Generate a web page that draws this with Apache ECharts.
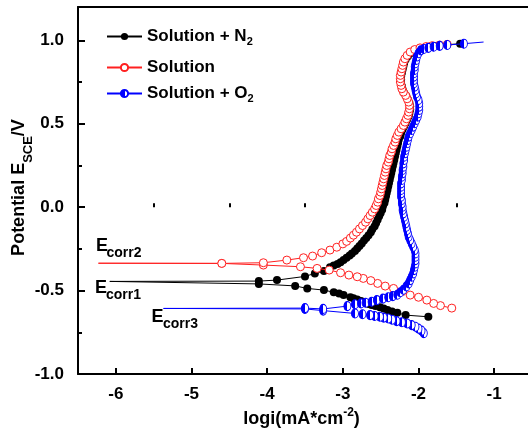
<!DOCTYPE html>
<html>
<head>
<meta charset="utf-8">
<script src="https://cdn.jsdelivr.net/npm/echarts@6/dist/echarts.min.js"></script>
<style>
html,body{margin:0;padding:0;background:#fff;overflow:hidden;}
#chart{width:528px;height:441px;}
</style>
</head>
<body>
<div id="chart"></div>
<script>
// ---------- data (logi, E) ----------
// Solution + N2 (black)
const n2Cathodic = [[-1.87,-0.657],[-2.17,-0.647],[-2.28,-0.633],[-2.35,-0.625],[-2.41,-0.617],[-2.46,-0.608],[-2.51,-0.600],[-2.57,-0.593],[-2.62,-0.587],[-2.66,-0.580],[-2.70,-0.573],[-2.76,-0.563],[-2.81,-0.553],[-2.86,-0.546],[-2.90,-0.540],[-2.99,-0.527],[-3.05,-0.517],[-3.12,-0.510],[-3.25,-0.497],[-3.47,-0.487],[-3.63,-0.472],[-4.11,-0.460]];
const n2Ecorr = [-6.08,-0.445];
const n2Anodic = [[-4.11,-0.443],[-3.87,-0.437],[-3.50,-0.415],[-3.37,-0.397],[-3.25,-0.383],[-3.17,-0.360],[-3.12,-0.350],[-3.07,-0.340],[-3.03,-0.330],[-2.99,-0.317],[-2.95,-0.303],[-2.91,-0.290],[-2.88,-0.277],[-2.84,-0.262],[-2.81,-0.247],[-2.78,-0.232],[-2.75,-0.217],[-2.72,-0.200],[-2.69,-0.185],[-2.66,-0.168],[-2.63,-0.150],[-2.61,-0.133],[-2.58,-0.115],[-2.56,-0.095],[-2.54,-0.075],[-2.52,-0.055],[-2.50,-0.035],[-2.48,-0.015],[-2.47,0.005],[-2.45,0.025],[-2.44,0.045],[-2.43,0.065],[-2.42,0.085],[-2.41,0.105],[-2.40,0.125],[-2.39,0.145],[-2.38,0.165],[-2.37,0.185],[-2.36,0.205],[-2.35,0.225],[-2.34,0.245],[-2.33,0.265],[-2.32,0.285],[-2.31,0.305],[-2.30,0.325],[-2.29,0.345],[-2.28,0.365],[-2.27,0.385],[-2.26,0.405],[-2.24,0.425],[-2.23,0.445],[-2.21,0.465],[-2.19,0.485],[-2.17,0.505],[-2.15,0.525],[-2.13,0.545],[-2.12,0.565],[-2.11,0.585],[-2.11,0.605],[-2.12,0.625],[-2.14,0.645],[-2.16,0.665],[-2.19,0.685],[-2.21,0.705],[-2.22,0.725],[-2.23,0.745],[-2.23,0.765],[-2.23,0.785],[-2.22,0.805],[-2.21,0.825],[-2.20,0.845],[-2.19,0.865],[-2.17,0.885],[-2.14,0.905],[-2.10,0.925],[-2.04,0.940],[-1.96,0.952],[-1.86,0.962],[-1.75,0.968],[-1.62,0.974],[-1.45,0.980]];

// Solution (red)
const solCathodic = [[-1.56,-0.605],[-1.71,-0.590],[-1.80,-0.577],[-1.89,-0.557],[-2.00,-0.540],[-2.11,-0.527],[-2.22,-0.507],[-2.33,-0.487],[-2.44,-0.473],[-2.54,-0.457],[-2.63,-0.440],[-2.73,-0.427],[-2.81,-0.417],[-2.92,-0.407],[-3.03,-0.393],[-3.18,-0.377],[-3.34,-0.367],[-3.56,-0.357],[-4.05,-0.347],[-4.60,-0.337]];
const solEcorr = [-6.23,-0.336];
const solAnodic = [[-4.60,-0.337],[-4.05,-0.333],[-3.74,-0.317],[-3.52,-0.303],[-3.40,-0.293],[-3.28,-0.273],[-3.17,-0.257],[-3.08,-0.240],[-3.00,-0.220],[-2.95,-0.205],[-2.90,-0.185],[-2.86,-0.168],[-2.82,-0.150],[-2.78,-0.130],[-2.74,-0.110],[-2.70,-0.090],[-2.67,-0.070],[-2.64,-0.050],[-2.61,-0.030],[-2.58,-0.010],[-2.56,0.010],[-2.54,0.030],[-2.53,0.050],[-2.51,0.070],[-2.50,0.090],[-2.49,0.110],[-2.48,0.130],[-2.47,0.150],[-2.46,0.170],[-2.45,0.190],[-2.44,0.210],[-2.43,0.230],[-2.42,0.250],[-2.40,0.270],[-2.39,0.290],[-2.38,0.310],[-2.36,0.330],[-2.35,0.350],[-2.33,0.370],[-2.31,0.390],[-2.30,0.410],[-2.28,0.430],[-2.26,0.450],[-2.23,0.470],[-2.20,0.490],[-2.18,0.510],[-2.16,0.530],[-2.14,0.550],[-2.13,0.570],[-2.12,0.590],[-2.12,0.610],[-2.13,0.630],[-2.15,0.650],[-2.17,0.670],[-2.20,0.690],[-2.22,0.710],[-2.23,0.730],[-2.24,0.750],[-2.24,0.770],[-2.24,0.790],[-2.23,0.810],[-2.22,0.830],[-2.21,0.850],[-2.20,0.870],[-2.18,0.890],[-2.15,0.910],[-2.11,0.930],[-2.05,0.945],[-1.98,0.955],[-1.90,0.963],[-1.82,0.968],[-1.72,0.972],[-1.62,0.976]];

// Solution + O2 (blue)
const o2Cathodic = [[-1.93,-0.755],[-1.96,-0.740],[-2.00,-0.728],[-2.04,-0.717],[-2.09,-0.707],[-2.15,-0.697],[-2.22,-0.690],[-2.29,-0.683],[-2.35,-0.675],[-2.40,-0.667],[-2.46,-0.662],[-2.51,-0.657],[-2.58,-0.652],[-2.64,-0.647],[-2.74,-0.642],[-2.84,-0.637],[-3.26,-0.620],[-3.50,-0.610]];
const o2Ecorr = [-5.37,-0.607];
const o2Anodic = [[-3.50,-0.605],[-3.26,-0.610],[-2.94,-0.593],[-2.84,-0.582],[-2.76,-0.577],[-2.70,-0.573],[-2.62,-0.567],[-2.55,-0.557],[-2.47,-0.548],[-2.40,-0.540],[-2.34,-0.533],[-2.28,-0.525],[-2.24,-0.510],[-2.20,-0.495],[-2.16,-0.475],[-2.13,-0.457],[-2.11,-0.437],[-2.09,-0.417],[-2.07,-0.397],[-2.06,-0.377],[-2.05,-0.357],[-2.04,-0.337],[-2.04,-0.317],[-2.04,-0.297],[-2.04,-0.277],[-2.05,-0.257],[-2.07,-0.237],[-2.09,-0.217],[-2.11,-0.197],[-2.13,-0.177],[-2.14,-0.157],[-2.15,-0.137],[-2.16,-0.117],[-2.17,-0.097],[-2.18,-0.077],[-2.19,-0.057],[-2.20,-0.037],[-2.21,-0.017],[-2.21,0.003],[-2.22,0.023],[-2.22,0.043],[-2.23,0.063],[-2.23,0.083],[-2.23,0.103],[-2.23,0.123],[-2.23,0.143],[-2.22,0.163],[-2.22,0.183],[-2.21,0.203],[-2.21,0.223],[-2.20,0.243],[-2.20,0.263],[-2.19,0.283],[-2.19,0.303],[-2.18,0.323],[-2.17,0.343],[-2.16,0.363],[-2.15,0.383],[-2.14,0.403],[-2.13,0.423],[-2.11,0.443],[-2.09,0.463],[-2.07,0.483],[-2.05,0.503],[-2.03,0.523],[-2.01,0.543],[-2.00,0.563],[-1.99,0.583],[-1.99,0.603],[-1.99,0.623],[-2.00,0.643],[-2.02,0.663],[-2.03,0.683],[-2.04,0.703],[-2.05,0.723],[-2.06,0.743],[-2.06,0.763],[-2.06,0.783],[-2.06,0.803],[-2.05,0.823],[-2.05,0.843],[-2.04,0.863],[-2.03,0.883],[-2.02,0.903],[-2.00,0.923],[-1.97,0.940],[-1.93,0.948],[-1.87,0.955],[-1.80,0.962],[-1.72,0.967],[-1.62,0.972],[-1.40,0.980]];
const o2Tail = [-1.14,0.990];

const seriesNames = ['Solution + N2','Solution','Solution + O2'];
const xTicks = [-6,-5,-4,-3,-2,-1];
const xMinorTicks = [-5.5,-4.5,-3.5,-2.5,-1.5];
const yTicks = [-1.0,-0.5,0.0,0.5,1.0];
const yMinorTicks = [-0.75,-0.25,0.25,0.75];

// ---------- chart ----------
const FONT = '"Liberation Sans", Arial, Helvetica, sans-serif';
function build(cath, ecorr, anod, tail){
  const d = cath.map(p => p.slice());
  d.push({value: ecorr.slice(), symbol: 'none'});
  anod.forEach(p => d.push(p.slice()));
  if (tail) d.push({value: tail.slice(), symbol: 'none'});
  return d;
}
const halfBlue = new echarts.graphic.LinearGradient(0,0,1,0,[
  {offset:0,color:'#0000ff'},{offset:0.5,color:'#0000ff'},
  {offset:0.5,color:'#ffffff'},{offset:1,color:'#ffffff'}]);

const chart = echarts.init(document.getElementById('chart'), null, {renderer:'canvas'});
const legendBase = (name, top) => ({
  data:[name], left:106, top:top, padding:0, orient:'vertical',
  itemWidth:35, itemHeight:9, selectedMode:false,
  formatter: n => {
    if (n === 'Solution + N2') return '{a|Solution + N}{s|2}';
    if (n === 'Solution + O2') return '{a|Solution + O}{s|2}';
    return '{a|' + n + '}';
  },
  textStyle:{color:'#000', fontFamily:FONT, fontWeight:'bold', fontSize:17,
    rich:{a:{fontFamily:FONT,fontWeight:'bold',fontSize:17,color:'#000',lineHeight:22},
          s:{fontFamily:FONT,fontWeight:'bold',fontSize:11,color:'#000',lineHeight:11,verticalAlign:'bottom'}}}
});

const option = {
  animation:false,
  backgroundColor:'#fff',
  grid:{left:78, top:7, right:-4, bottom:67, outerBoundsMode:'none', containLabel:false, show:false},
  legend:[legendBase(seriesNames[0],28), legendBase(seriesNames[1],59), legendBase(seriesNames[2],85)],
  xAxis:[{
    type:'value', min:-6.5, max:-0.5, position:'bottom',
    axisLine:{onZero:false, lineStyle:{color:'#000', width:2}},
    axisTick:{inside:true, length:6, lineStyle:{color:'#000', width:2}, customValues:xTicks},
    axisLabel:{customValues:xTicks, margin:12, color:'#000', fontFamily:FONT, fontWeight:'bold', fontSize:17},
    splitLine:{show:false}
  },{
    type:'value', min:-6.5, max:-0.5, position:'top',
    axisLine:{onZero:false, lineStyle:{color:'#000', width:2}},
    axisTick:{show:false}, axisLabel:{show:false}, splitLine:{show:false}
  },{
    type:'value', min:-6.5, max:-0.5, position:'bottom',
    axisLine:{show:false},
    axisTick:{inside:true, length:4, lineStyle:{color:'#000', width:2}, customValues:xMinorTicks},
    axisLabel:{show:false}, splitLine:{show:false}
  }],
  yAxis:[{
    type:'value', min:-1, max:1.2, position:'left',
    axisLine:{onZero:false, lineStyle:{color:'#000', width:2}},
    axisTick:{inside:true, length:7, lineStyle:{color:'#000', width:2}, customValues:yTicks},
    axisLabel:{customValues:yTicks, margin:14, color:'#000', fontFamily:FONT, fontWeight:'bold', fontSize:17,
      formatter: v => v.toFixed(1)},
    splitLine:{show:false}
  },{
    type:'value', min:-1, max:1.2, position:'left',
    axisLine:{show:false},
    axisTick:{inside:true, length:4, lineStyle:{color:'#000', width:2}, customValues:yMinorTicks},
    axisLabel:{show:false}, splitLine:{show:false}
  }],
  series:[{
    name:seriesNames[0], type:'line', xAxisIndex:0, yAxisIndex:0,
    data:build(n2Cathodic, n2Ecorr, n2Anodic),
    symbol:'circle', symbolSize:8,
    lineStyle:{color:'#000', width:1},
    itemStyle:{color:'#000', borderColor:'#000', borderWidth:0},
    z:2
  },{
    name:seriesNames[1], type:'line', xAxisIndex:0, yAxisIndex:0,
    data:build(solCathodic, solEcorr, solAnodic),
    symbol:'circle', symbolSize:8,
    lineStyle:{color:'#ff2020', width:1},
    itemStyle:{color:'#ffffff', borderColor:'#ff2020', borderWidth:1},
    z:3
  },{
    name:seriesNames[2], type:'line', xAxisIndex:0, yAxisIndex:0,
    data:build(o2Cathodic, o2Ecorr, o2Anodic, o2Tail),
    symbol:'circle', symbolSize:[7,9],
    lineStyle:{color:'#0000ff', width:1},
    itemStyle:{color:halfBlue, borderColor:'#0000ff', borderWidth:1},
    z:4
  }],
  graphic:[
    {type:'text', x:19.5, y:187.5, rotation:Math.PI/2, z:10,
      style:{text:'{a|Potential E}{b|SCE}{a|/V}', align:'center', verticalAlign:'middle',
        rich:{a:{fontFamily:FONT,fontWeight:'bold',fontSize:18,fill:'#000',lineHeight:30},
              b:{fontFamily:FONT,fontWeight:'bold',fontSize:13,fill:'#000',lineHeight:14,verticalAlign:'bottom'}}}},
    {type:'text', x:301.5, y:419, z:10,
      style:{text:'{a|logi(mA*cm}{b|-2}{a|)}', align:'center', verticalAlign:'middle',
        rich:{a:{fontFamily:FONT,fontWeight:'bold',fontSize:18,fill:'#000',lineHeight:24},
              b:{fontFamily:FONT,fontWeight:'bold',fontSize:12,fill:'#000',lineHeight:12,verticalAlign:'top'}}}},
    // Ecorr annotations
    {type:'text', x:96, y:246, z:10, style:{text:'E', fontFamily:FONT, fontWeight:'bold', fontSize:18, fill:'#000', verticalAlign:'middle'}},
    {type:'text', x:106.5, y:253, z:10, style:{text:'corr2', fontFamily:FONT, fontWeight:'bold', fontSize:14, fill:'#000', verticalAlign:'middle'}},
    {type:'text', x:95, y:288.5, z:10, style:{text:'E', fontFamily:FONT, fontWeight:'bold', fontSize:18, fill:'#000', verticalAlign:'middle'}},
    {type:'text', x:106, y:295.5, z:10, style:{text:'corr1', fontFamily:FONT, fontWeight:'bold', fontSize:14, fill:'#000', verticalAlign:'middle'}},
    {type:'text', x:151.5, y:317, z:10, style:{text:'E', fontFamily:FONT, fontWeight:'bold', fontSize:18, fill:'#000', verticalAlign:'middle'}},
    {type:'text', x:163, y:324, z:10, style:{text:'corr3', fontFamily:FONT, fontWeight:'bold', fontSize:14, fill:'#000', verticalAlign:'middle'}}
  ]
};
chart.setOption(option);
</script>
</body>
</html>
